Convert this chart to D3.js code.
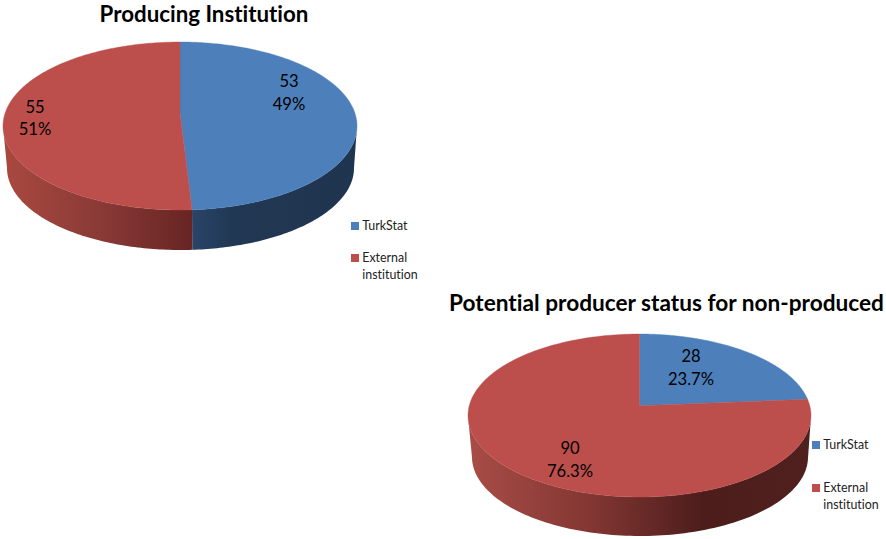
<!DOCTYPE html>
<html>
<head>
<meta charset="utf-8">
<script src="https://cdn.jsdelivr.net/npm/d3@7"></script>
<style>
  html, body { margin: 0; padding: 0; background: #fff; }
  text { font-family: Lato, "Noto Sans", sans-serif; fill: #000; font-variant-ligatures: none; }
  .title { font-weight: 700; text-anchor: middle; }
  .value { font-size: 16.6px; text-anchor: middle; }
  .legend { font-size: 12.4px; fill: #222; }
</style>
</head>
<body>
<svg id="chart" width="886" height="539"></svg>
<script>
var categories = ["TurkStat", "External institution"];
var producingValues = [53, 55];
var producingPercents = ["49%", "51%"];
var potentialValues = [28, 90];
var potentialPercents = ["23.7%", "76.3%"];

var faceColors = ["#4d7fba", "#bc4f4c"];

// layout of the two 3d pies, apex is how far the centre is pushed up by the perspective
var charts = [
  {
    id: "a", title: "Producing Institution", titleX: 204, titleY: 22, titleSize: 22.3,
    values: producingValues, percents: producingPercents,
    cx: 180, cy: 126, rx: 177, ry: 84, apex: -0.155,
    bottom: { cx: 180.5, cy: 168, rx: 173.5, ry: 82 },
    labels: [[289, 87], [35, 112.5]],
    legend: { x: 351, y: [222, 254] },
    walls: [
      [["0%", "#2a4468"], ["25%", "#213854"], ["100%", "#1f344e"]],
      [["0%", "#a8493f"], ["50%", "#8a3a37"], ["100%", "#672523"]]
    ],
    wallRange: [[192, 357], [6, 192]]
  },
  {
    id: "b", title: "Potential producer status for non-produced", titleX: 666.5, titleY: 311, titleSize: 22.65,
    values: potentialValues, percents: potentialPercents,
    cx: 639.5, cy: 415.5, rx: 171.5, ry: 81.5, apex: -0.12,
    bottom: { cx: 640, cy: 457, rx: 168, ry: 79 },
    labels: [[691, 362], [570, 454]],
    legend: { x: 812, y: [441, 484] },
    walls: [
      [["0%", "#4a1c1c"], ["100%", "#4a1c1c"]],
      [["0%", "#a84c46"], ["35%", "#833733"], ["68%", "#4d1d1c"], ["100%", "#4f201e"]]
    ],
    wallRange: [[700, 811], [470, 811]]
  }
];

var svg = d3.select("#chart");
var defs = svg.append("defs");
var pie = d3.pie().sort(null);
var line = d3.line();

// circle angle -> point on the tilted face, the perspective is a projective map of the disk
function facePoint(c, a) {
  var u = Math.sin(a), v = -Math.cos(a), d = c.apex;
  var k = 1 + d * v;
  return [
    c.cx + c.rx * u * Math.sqrt(1 - d * d) / k,
    c.cy + c.ry * (v + d) / k
  ];
}

function bottomPoint(c, p) {
  return [
    c.bottom.cx + (p[0] - c.cx) * c.bottom.rx / c.rx,
    c.bottom.cy + (p[1] - c.cy) * c.bottom.ry / c.ry
  ];
}

function sampleArc(c, slice) {
  var n = 200, pts = [];
  for (var i = 0; i <= n; i++) {
    pts.push(facePoint(c, slice.startAngle + (slice.endAngle - slice.startAngle) * i / n));
  }
  return pts;
}

charts.forEach(function (c) {
  var slices = pie(c.values);
  var g = svg.append("g");

  // side walls first
  slices.forEach(function (s, i) {
    var top = sampleArc(c, s).filter(function (p) { return p[1] >= c.cy; });
    if (top.length < 2) return;
    var bot = top.map(function (p) { return bottomPoint(c, p); }).reverse();
    var grad = defs.append("linearGradient")
      .attr("id", "wall-" + c.id + i)
      .attr("gradientUnits", "userSpaceOnUse")
      .attr("x1", c.wallRange[i][0]).attr("x2", c.wallRange[i][1])
      .attr("y1", 0).attr("y2", 0);
    c.walls[i].forEach(function (st) {
      grad.append("stop").attr("offset", st[0]).attr("stop-color", st[1]);
    });
    g.append("path")
      .attr("d", line(top.concat(bot)) + "Z")
      .attr("fill", "url(#wall-" + c.id + i + ")");
  });

  // top face
  slices.forEach(function (s, i) {
    var apex = [c.cx, c.cy + c.ry * c.apex];
    g.append("path")
      .attr("d", line([apex].concat(sampleArc(c, s))) + "Z")
      .attr("fill", faceColors[i])
      .attr("stroke", faceColors[i])
      .attr("stroke-width", 0.4);
  });

  // data labels
  c.values.forEach(function (v, i) {
    g.append("text").attr("class", "value")
      .attr("x", c.labels[i][0]).attr("y", c.labels[i][1]).text(v);
    g.append("text").attr("class", "value")
      .attr("x", c.labels[i][0]).attr("y", c.labels[i][1] + 22.5).text(c.percents[i]);
  });

  // legend
  categories.forEach(function (name, i) {
    var y = c.legend.y[i];
    g.append("rect")
      .attr("x", c.legend.x).attr("y", y)
      .attr("width", 8).attr("height", 8)
      .attr("fill", faceColors[i]);
    name.split(" ").forEach(function (word, j) {
      g.append("text").attr("class", "legend")
        .attr("x", c.legend.x + 11.3).attr("y", y + 8.3 + j * 16.5)
        .text(word);
    });
  });

  g.append("text").attr("class", "title")
    .attr("x", c.titleX).attr("y", c.titleY)
    .style("font-size", c.titleSize + "px")
    .text(c.title);
});
</script>
</body>
</html>
